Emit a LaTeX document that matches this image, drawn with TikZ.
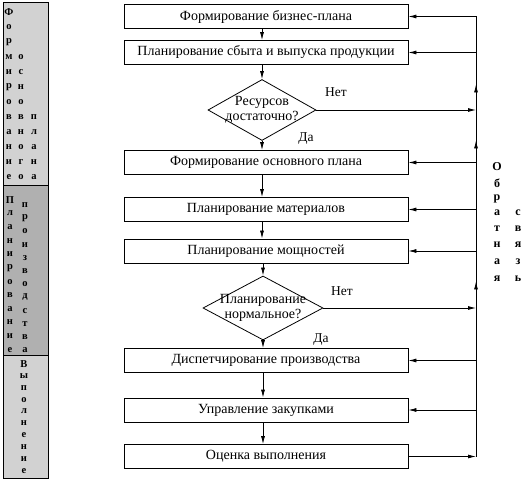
\documentclass[tikz,border=0pt]{standalone}
\usepackage{fontspec}
\setmainfont{Liberation Serif}
\usetikzlibrary{shapes.geometric,arrows.meta,decorations.markings}
\begin{document}
\begin{tikzpicture}[x=1pt,y=-1pt,
  every node/.style={inner sep=0pt},
  box/.style={draw, line width=0.8pt, minimum width=284pt, minimum height=24pt, font=\fontsize{14}{15}\selectfont},
  dia/.style={draw, diamond, line width=0.8pt},
  diatext/.style={align=center, font=\fontsize{14}{15}\selectfont},
  arr/.style={line width=0.8pt, -{Latex[length=8pt,width=4pt]}},
  ln/.style={line width=0.8pt},
  lbl/.style={font=\fontsize{13.5}{14}\selectfont},
  bar/.style={font=\bfseries\fontsize{10.5}{11}\selectfont},
  fbt/.style={font=\bfseries\fontsize{12}{12}\selectfont}
]
\useasboundingbox (0,0) rectangle (528,481);
% left bar
\fill[gray!35] (3,2) rectangle (48,185);
\fill[gray!62] (3,185) rectangle (48,355);
\fill[gray!35] (3,355) rectangle (48,478);
\draw[ln] (3,2) rectangle (48,478);
\draw[line width=0.5pt] (3,185) -- (48,185) (3,355) -- (48,355);
\foreach \ch [count=\i from 0] in {Ф,о,р,м,и,р,о,в,а,н,и,е}
  \node[bar] (fa\i) at (9,12+15*\i) {\ch};
\foreach \ch [count=\i from 3] in {о,с,н,о,в,н,о,г,о}
  \node[bar] (fb\i) at (21,12+15*\i) {\ch};
\foreach \ch [count=\i from 7] in {п,л,а,н,а}
  \node[bar] (fc\i) at (34,12+15*\i) {\ch};
\foreach \ch [count=\i from 0] in {П,л,а,н,и,р,о,в,а,н,и,е}
  \node[bar] (pa\i) at (10,200+13.6*\i) {\ch};
\foreach \ch [count=\i from 0] in {п,р,о,и,з,в,о,д,с,т,в,а}
  \node[bar] (pb\i) at (25,205+13.2*\i) {\ch};
\foreach \ch [count=\i from 0] in {В,ы,п,о,л,н,е,н,и,е}
  \node[bar] (va\i) at (24,364+11.9*\i) {\ch};
% right text
\foreach \ch/\yy [count=\i] in {О/167,б/183,р/199,а/213,т/229,н/245,а/262,я/279}
  \node[fbt] (oa\i) at (497,\yy) {\ch};
\foreach \ch/\yy [count=\i] in {с/213,в/229,я/245,з/262,ь/279}
  \node[fbt] (sa\i) at (518,\yy) {\ch};
% boxes
\node[box] (b1) at (266,16.5) {Формирование бизнес-плана};
\node[box] (b2) at (266,52.5) {Планирование сбыта и выпуска продукции};
\node[dia, minimum width=108pt, minimum height=61pt] (d1) at (262,110) {};
\node[diatext] (d1t) at (d1.center) {Ресурсов\\достаточно?};
\node[box] (b3) at (266,162.5) {Формирование основного плана};
\node[box] (b4) at (266,209.5) {Планирование материалов};
\node[box] (b5) at (266,251) {Планирование мощностей};
\node[dia, minimum width=120pt, minimum height=64pt] (d2) at (263,308) {};
\node[diatext] (d2t) at (d2.center) {Планирование\\нормальное?};
\node[box] (b6) at (266,360.5) {Диспетчирование производства};
\node[box] (b7) at (266,410) {Управление закупками};
\node[box] (b8) at (266,456.5) {Оценка выполнения};
% labels
\node[lbl] (n1) at (336,92) {Нет};
\node[lbl] (y1) at (306,139) {Да};
\node[lbl] (n2) at (342,291) {Нет};
\node[lbl] (y2) at (321,340) {Да};
% feedback line
\coordinate (ft) at (476,16.5);
\coordinate (fbot) at (476,456.5);
\draw[ln, decoration={markings,
   mark=at position 175pt with {\arrow{Latex[length=8pt,width=4pt]}},
   mark=at position 316pt with {\arrow{Latex[length=8pt,width=4pt]}},
   mark=at position 372pt with {\arrow{Latex[length=8pt,width=4pt]}}},
   postaction={decorate}] (fbot) -- (ft);
% down arrows
\draw[arr] (b1.south -| d1) -- (b2.north -| d1);
\draw[arr] (b2.south -| d1) -- (d1.north);
\draw[arr] (d1.south) -- (b3.north -| d1);
\draw[arr] (b3.south -| d1) -- (b4.north -| d1);
\draw[arr] (b4.south -| d1) -- (b5.north -| d1);
\draw[arr] (b5.south -| d2) -- (d2.north);
\draw[arr] (d2.south) -- (b6.north -| d2);
\draw[arr] (b6.south -| d2) -- (b7.north -| d2);
\draw[arr] (b7.south -| d2) -- (b8.north -| d2);
% to feedback
\draw[arr] (d1.east) -- (d1.east -| ft);
\draw[arr] (d2.east) -- (d2.east -| ft);
\draw[arr] (b8.east) -- (b8.east -| ft);
% from feedback
\foreach \b in {b1,b2,b3,b4,b5,b6,b7}
  \draw[arr] (\b.east -| ft) -- (\b.east);
\end{tikzpicture}
\end{document}
